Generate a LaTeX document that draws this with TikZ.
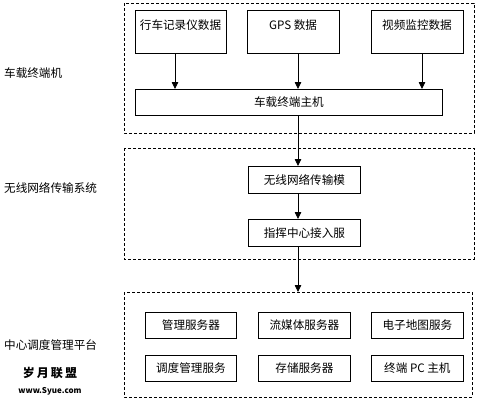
\documentclass[tikz,border=0pt]{standalone}
\usepackage{fontspec}
\setmainfont{Noto Sans CJK SC}
\usetikzlibrary{arrows.meta}
\begin{document}
\begin{tikzpicture}[x=1pt,y=-1pt,
  font=\fontsize{11.6pt}{12pt}\selectfont,
  grp/.style={draw, dash pattern=on 3pt off 2pt, line width=0.8pt},
  bx/.style={draw, line width=0.8pt, inner sep=0pt},
  arr/.style={line width=0.8pt, -{Triangle[length=7pt,width=6.5pt]}},
  lbl/.style={anchor=west, inner sep=0pt}]
\useasboundingbox (0,0) rectangle (479,402);
% groups
\draw[grp] (124,3) rectangle (474,133);
\draw[grp] (124,148) rectangle (474,259);
\draw[grp] (124,292) rectangle (472,397);
% group 1
\node[bx, minimum width=91pt, minimum height=43pt, anchor=north west] (rec) at (135,10) {};
\node at (180.5,25) {行车记录仪数据};
\node[bx, minimum width=92pt, minimum height=43pt, anchor=north west] (gps) at (247,10) {};
\node at (293,25) {GPS 数据};
\node[bx, minimum width=92pt, minimum height=43pt, anchor=north west] (vid) at (371,10) {};
\node at (417,25) {视频监控数据};
\node[bx, minimum width=307pt, minimum height=26pt, anchor=north west] (host) at (135,89) {车载终端主机};
\coordinate (a1) at (175,89);
\coordinate (a2) at (298,89);
\coordinate (a3) at (422,89);
\draw[arr] (rec.south -| a1) -- (a1);
\draw[arr] (gps.south -| a2) -- (a2);
\draw[arr] (vid.south -| a3) -- (a3);
% group 2
\node[bx, minimum width=112pt, minimum height=27pt, anchor=north west] (wl) at (248,166) {无线网络传输模};
\node[bx, minimum width=112pt, minimum height=27pt, anchor=north west] (cmd) at (248,219) {指挥中心接入服};
\coordinate (h1) at (298,115);
\coordinate (h2) at (298,166);
\draw[arr] (h1) -- (h2);
\coordinate (w1) at (298,193);
\coordinate (w2) at (298,219);
\draw[arr] (w1) -- (w2);
\coordinate (c1) at (298,246);
\coordinate (c2) at (298,292);
\draw[arr] (c1) -- (c2);
% group 3
\node[bx, minimum width=91pt, minimum height=26pt, anchor=north west] (s1) at (145,312) {管理服务器};
\node[bx, minimum width=92pt, minimum height=26pt, anchor=north west] (s2) at (258,312) {流媒体服务器};
\node[bx, minimum width=92pt, minimum height=26pt, anchor=north west] (s3) at (371,312) {电子地图服务};
\node[bx, minimum width=91pt, minimum height=26pt, anchor=north west] (s4) at (145,355) {调度管理服务};
\node[bx, minimum width=92pt, minimum height=26pt, anchor=north west] (s5) at (258,355) {存储服务器};
\node[bx, minimum width=92pt, minimum height=26pt, anchor=north west] (s6) at (371,355) {终端 PC 主机};
% side labels
\node[lbl] (l1) at (4,73) {车载终端机};
\node[lbl] (l2) at (4,188) {无线网络传输系统};
\node[lbl] (l3) at (4,345) {中心调度管理平台};
\node[font=\fontsize{12pt}{13pt}\selectfont\bfseries] (wm1) at (50,373) {岁\,月\,联\,盟};
\node[font=\fontsize{8pt}{9pt}\selectfont\bfseries] (wm2) at (50,391) {www.Syue.com};
\end{tikzpicture}
\end{document}
